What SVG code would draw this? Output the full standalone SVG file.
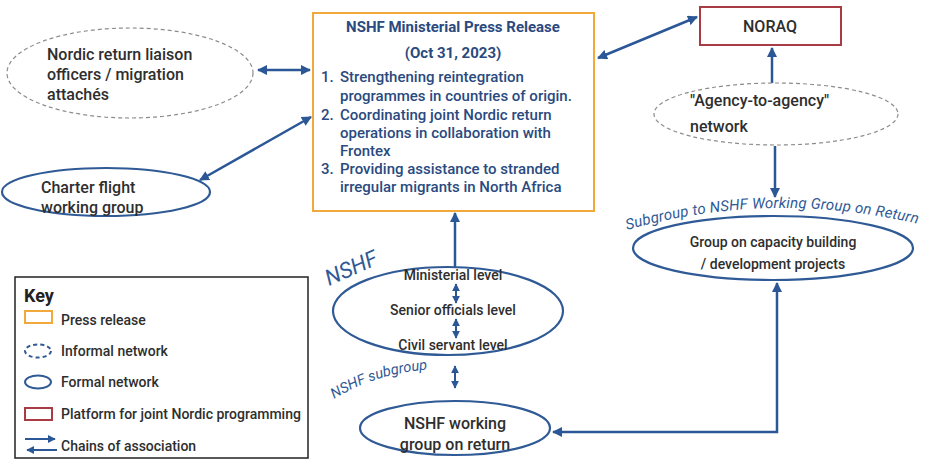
<svg xmlns="http://www.w3.org/2000/svg" width="926" height="460" viewBox="0 0 926 460">
<defs>
<marker id="ah" viewBox="0 0 10 10" refX="9" refY="5" markerWidth="4" markerHeight="4" orient="auto-start-reverse" markerUnits="strokeWidth">
<path d="M0,0 L10,5 L0,10 z" fill="#2b5797"/>
</marker>
<path id="arcSub" d="M 627,230 Q 775,188 926,226"/>
<path id="arcNs" d="M 334,399 Q 383,369 445,369"/>
</defs>
<style>
text{font-family:Roboto,"Liberation Sans",sans-serif;}
.t{font-size:16px;font-weight:500;fill:#2e2e2e;}
.s{font-size:14px;font-weight:500;fill:#2e2e2e;}
.pr{font-size:15px;font-weight:500;fill:#2a4a80;}
.prb{font-size:15px;font-weight:700;fill:#2a4a80;}
.lab{font-style:italic;fill:#2f5a96;font-weight:400;}
.formal{fill:#fff;stroke:#2f5a96;stroke-width:2.2;}
.informal{fill:#fff;stroke:#8c8c8c;stroke-width:1.2;stroke-dasharray:4 3;}
.c{fill:none;stroke:#2b5797;stroke-width:2.5;}
.cs{fill:none;stroke:#2b5797;stroke-width:2;}
</style>
<rect width="926" height="460" fill="#fff"/>

<g id="connectors">
<line class="c" x1="258" y1="70" x2="310" y2="70" marker-start="url(#ah)" marker-end="url(#ah)"/>
<line class="c" x1="200" y1="180" x2="311" y2="117" marker-start="url(#ah)" marker-end="url(#ah)"/>
<line class="c" x1="598" y1="58" x2="697" y2="17" marker-start="url(#ah)" marker-end="url(#ah)"/>
<line class="c" x1="772" y1="83" x2="772" y2="48" marker-end="url(#ah)"/>
<line class="c" x1="775" y1="146" x2="775" y2="197" marker-end="url(#ah)"/>
<line class="c" x1="455" y1="267" x2="455" y2="213" marker-end="url(#ah)"/>
<line class="cs" x1="455" y1="366" x2="455" y2="388" marker-start="url(#ah)" marker-end="url(#ah)"/>
<polyline class="c" points="777,283 777,432 553,432" marker-start="url(#ah)" marker-end="url(#ah)"/>
</g>

<g id="press-release">
<rect x="313" y="13" width="281" height="198" fill="#fff" stroke="#f2a93b" stroke-width="2"/>
<text class="prb" x="453" y="32" text-anchor="middle">NSHF Ministerial Press Release</text>
<text class="prb" x="453" y="58" text-anchor="middle">(Oct 31, 2023)</text>
<text class="pr" x="321" y="82">1.</text>
<text class="pr" x="340" y="82">Strengthening reintegration</text>
<text class="pr" x="340" y="101">programmes in countries of origin.</text>
<text class="pr" x="321" y="120">2.</text>
<text class="pr" x="340" y="120">Coordinating joint Nordic return</text>
<text class="pr" x="340" y="138">operations in collaboration with</text>
<text class="pr" x="340" y="156">Frontex</text>
<text class="pr" x="321" y="174">3.</text>
<text class="pr" x="340" y="174">Providing assistance to stranded</text>
<text class="pr" x="340" y="192">irregular migrants in North Africa</text>
</g>

<g id="liaison">
<ellipse class="informal" cx="130" cy="73" rx="123" ry="45"/>
<text class="t" x="47" y="60">Nordic return liaison</text>
<text class="t" x="47" y="80">officers / migration</text>
<text class="t" x="47" y="100">attachés</text>
</g>

<g id="charter">
<ellipse class="formal" cx="106" cy="192" rx="104" ry="24"/>
<text class="t" x="41" y="193">Charter flight</text>
<text class="t" x="41" y="213">working group</text>
</g>

<g id="noraq">
<rect x="700" y="7" width="141" height="38" fill="#fff" stroke="#a93b45" stroke-width="2"/>
<text class="t" x="770" y="32" text-anchor="middle" font-size="16.5">NORAQ</text>
</g>

<g id="agency">
<ellipse class="informal" cx="776" cy="114" rx="122" ry="31"/>
<text class="t" x="690" y="106" font-size="17">"Agency-to-agency"</text>
<text class="t" x="690" y="132" font-size="17">network</text>
</g>

<g id="capacity">
<ellipse class="formal" cx="773" cy="248" rx="140" ry="32"/>
<text class="s" x="773" y="247" text-anchor="middle" font-size="15">Group on capacity building</text>
<text class="s" x="773" y="269" text-anchor="middle" font-size="15">/ development projects</text>
<text class="lab" font-size="15" letter-spacing="0.2"><textPath href="#arcSub">Subgroup to NSHF Working  Group on Return</textPath></text>
</g>

<g id="nshf">
<ellipse class="formal" cx="448" cy="311" rx="115" ry="44"/>
<text class="s" x="453" y="280" text-anchor="middle">Ministerial level</text>
<text class="s" x="453" y="315" text-anchor="middle">Senior officials level</text>
<text class="s" x="453" y="350" text-anchor="middle">Civil servant level</text>
<line class="cs" stroke-width="1.5" x1="456" y1="284" x2="456" y2="303" marker-start="url(#ah)" marker-end="url(#ah)"/>
<line class="cs" stroke-width="1.5" x1="456" y1="319" x2="456" y2="338" marker-start="url(#ah)" marker-end="url(#ah)"/>
<text class="lab" font-size="22" transform="translate(329,286) rotate(-24)">NSHF</text>
</g>

<g id="working-group">
<ellipse class="formal" cx="455" cy="428" rx="95" ry="27"/>
<text class="t" x="455" y="429" text-anchor="middle" font-size="19">NSHF working</text>
<text class="t" x="455" y="450" text-anchor="middle" font-size="19">group on return</text>
<text class="lab" font-size="14.5"><textPath href="#arcNs">NSHF subgroup</textPath></text>
</g>

<g id="key">
<rect x="15" y="277" width="293" height="181" fill="#fff" stroke="#222" stroke-width="1.5"/>
<text x="24" y="302" font-size="18" font-weight="700" fill="#222">Key</text>
<rect x="25" y="311" width="27" height="12" fill="#fff" stroke="#f2a93b" stroke-width="2"/>
<text class="s" x="61" y="325">Press release</text>
<ellipse cx="38" cy="351" rx="13" ry="6.5" fill="#fff" stroke="#2f5a96" stroke-width="2" stroke-dasharray="4 3"/>
<text class="s" x="61" y="356">Informal network</text>
<ellipse cx="38" cy="382" rx="13" ry="6.5" fill="#fff" stroke="#2f5a96" stroke-width="2"/>
<text class="s" x="61" y="387">Formal network</text>
<rect x="25" y="408" width="27" height="12" fill="#fff" stroke="#a93b45" stroke-width="2"/>
<text class="s" x="61" y="419">Platform for joint Nordic programming</text>
<line class="cs" x1="25" y1="439" x2="55" y2="439" marker-end="url(#ah)"/>
<line class="cs" x1="27" y1="450" x2="57" y2="450" marker-start="url(#ah)"/>
<text class="s" x="61" y="451">Chains of association</text>
</g>
</svg>
